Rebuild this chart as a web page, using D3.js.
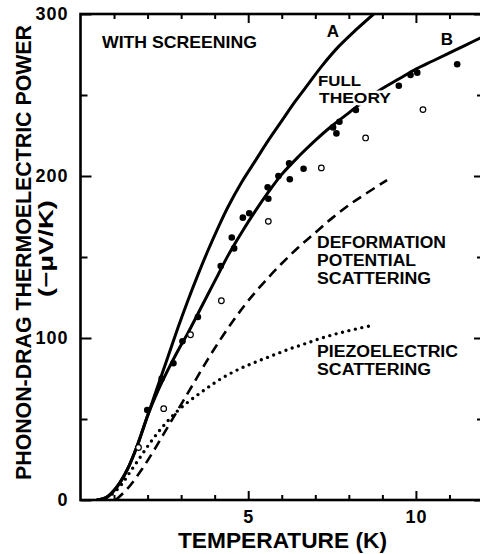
<!DOCTYPE html>
<html><head><meta charset="utf-8">
<script src="https://cdn.jsdelivr.net/npm/d3@7"></script>
<style>body{margin:0;background:#fff} svg{display:block}</style>
</head><body>
<svg id="chart" width="480" height="554"></svg>
<script>
// ---- data ----
const xTicksMajor = [5, 10];
const xTicksMinor = [1, 2, 3, 4, 6, 7, 8, 9, 11];
const yTicksMajor = [0, 100, 200, 300];
const yTicksMinor = [50, 150, 250];

// Curve A (solid, upper)
const curveA_T = [0.48, 0.8, 1.1, 1.4, 1.7, 2.0, 2.3, 2.6, 2.9, 3.2, 3.5, 3.8, 4.1, 4.4, 4.8, 5.2, 5.6, 6.0, 6.4, 6.8, 7.2, 7.7, 8.2, 8.74];
const curveA_S = [0, 2, 8.5, 19, 34, 52, 70, 88, 106, 123, 139, 154, 168, 181, 196, 209, 222, 234, 246, 257, 268, 280, 290, 300];
// Curve B (solid, full theory)
const curveB_T = [0.48, 0.8, 1.1, 1.4, 1.7, 2.0, 2.3, 2.6, 2.9, 3.2, 3.5, 3.8, 4.1, 4.4, 4.8, 5.2, 5.6, 6.0, 6.5, 7.0, 7.5, 8.0, 8.5, 9.0, 9.5, 10.0, 10.5, 11.0, 11.5, 12.0];
const curveB_S = [0, 2, 8.5, 19, 34, 52, 67, 80, 92, 103, 115, 127, 139, 151, 165, 178, 190, 201, 212, 222, 231, 239, 247, 254, 260, 266, 271, 276, 281, 286];
// Deformation potential scattering (dashed)
const deformT = [1.05, 1.4, 1.8, 2.2, 2.6, 3.0, 3.4, 3.8, 4.2, 4.6, 5.0, 5.5, 6.0, 6.5, 7.0, 7.5, 8.0, 8.5, 9.14];
const deformS = [0, 7, 18, 31, 45, 59, 73, 87, 100, 112, 123, 135, 146, 156, 165, 174, 182, 189, 197.5];
// Piezoelectric scattering (dotted)
const piezoT = [0.6, 0.9, 1.2, 1.5, 1.8, 2.1, 2.4, 2.7, 3.0, 3.4, 3.8, 4.2, 4.7, 5.2, 5.7, 6.2, 6.7, 7.2, 7.7, 8.2, 8.74];
const piezoS = [0, 3, 9, 18, 27, 36, 44, 51, 57, 63.5, 69.5, 75, 80.5, 85, 89, 93, 96.5, 100, 103, 105.5, 108];
// Measured points
const filledT = [1.99, 2.42, 2.77, 3.04, 3.5, 4.18, 4.51, 4.58, 4.84, 5.03, 5.58, 5.6, 5.9, 6.22, 6.24, 6.65, 7.53, 7.63, 7.72, 8.21, 9.49, 9.84, 10.04, 11.23];
const filledS = [55.5, 75, 84.4, 98, 113, 144.4, 162, 155.3, 174.3, 177, 193, 186, 200, 207.8, 198, 204.5, 230, 226.3, 233.5, 240.7, 255.7, 262.3, 263.8, 269];
const openT = [1.73, 2.48, 3.28, 4.2, 5.6, 7.18, 8.5, 10.21];
const openS = [32.4, 56.4, 102, 123, 172, 205, 223.5, 241];

// ---- drawing ----
const svg = d3.select("#chart");
const x = d3.scaleLinear().domain([0, 12]).range([80.5, 483]);
const y = d3.scaleLinear().domain([0, 300]).range([500, 14]);
const FONT = "'Liberation Sans', Arial, Helvetica, sans-serif";

svg.append("defs").append("clipPath").attr("id", "clip")
  .append("rect").attr("x", x(0)).attr("y", y(300))
  .attr("width", x(12) - x(0)).attr("height", y(0) - y(300));

function styleAxis(g) {
  g.select(".domain").remove();
  g.selectAll(".tick line").attr("stroke", "#000").attr("stroke-width", 2);
  g.selectAll(".tick text").attr("font-family", FONT).attr("font-weight", "bold")
    .attr("font-size", 18).attr("letter-spacing", 1).attr("fill", "#000");
}
svg.append("g").attr("transform", `translate(0,${y(0)})`)
  .call(d3.axisBottom(x).tickValues(xTicksMajor).tickSize(-9).tickPadding(10).tickFormat(d3.format("d")))
  .call(styleAxis);
svg.append("g").attr("transform", `translate(0,${y(0)})`)
  .call(d3.axisBottom(x).tickValues(xTicksMinor).tickSize(-5).tickFormat(""))
  .call(styleAxis);
svg.append("g").attr("transform", `translate(0,${y(300)})`)
  .call(d3.axisTop(x).tickValues(xTicksMajor).tickSize(-9).tickFormat(""))
  .call(styleAxis);
svg.append("g").attr("transform", `translate(0,${y(300)})`)
  .call(d3.axisTop(x).tickValues(xTicksMinor).tickSize(-5).tickFormat(""))
  .call(styleAxis);
svg.append("g").attr("transform", `translate(${x(0)},0)`)
  .call(d3.axisLeft(y).tickValues(yTicksMajor).tickSize(-11).tickPadding(12).tickFormat(d3.format("d")))
  .call(styleAxis);
svg.append("g").attr("transform", `translate(${x(0)},0)`)
  .call(d3.axisLeft(y).tickValues(yTicksMinor).tickSize(-7).tickFormat(""))
  .call(styleAxis);
svg.append("g").attr("transform", `translate(${x(12)},0)`)
  .call(d3.axisRight(y).tickValues(yTicksMajor).tickSize(-9).tickFormat(""))
  .call(styleAxis);
svg.append("g").attr("transform", `translate(${x(12)},0)`)
  .call(d3.axisRight(y).tickValues(yTicksMinor).tickSize(-6).tickFormat(""))
  .call(styleAxis);

// frame
svg.append("rect").attr("x", x(0)).attr("y", y(300))
  .attr("width", x(12) - x(0)).attr("height", y(0) - y(300))
  .attr("fill", "none").attr("stroke", "#000").attr("stroke-width", 2.6);

const line = d3.line().x(d => x(d[0])).y(d => y(d[1])).curve(d3.curveCatmullRom.alpha(0.5));
const plot = svg.append("g").attr("clip-path", "url(#clip)");

plot.append("path").datum(d3.zip(curveA_T, curveA_S)).attr("d", line)
  .attr("fill", "none").attr("stroke", "#000").attr("stroke-width", 3);
plot.append("path").datum(d3.zip(curveB_T, curveB_S)).attr("d", line)
  .attr("fill", "none").attr("stroke", "#000").attr("stroke-width", 3);
plot.append("path").datum(d3.zip(deformT, deformS)).attr("d", line)
  .attr("fill", "none").attr("stroke", "#000").attr("stroke-width", 2.6)
  .attr("stroke-dasharray", "10,6");
plot.append("path").datum(d3.zip(piezoT, piezoS)).attr("d", line)
  .attr("fill", "none").attr("stroke", "#000").attr("stroke-width", 3.4)
  .attr("stroke-linecap", "round").attr("stroke-dasharray", "0,6.6");

plot.selectAll("circle.filled").data(d3.zip(filledT, filledS)).join("circle")
  .attr("class", "filled").attr("cx", d => x(d[0])).attr("cy", d => y(d[1]))
  .attr("r", 3.3).attr("fill", "#000");
plot.selectAll("circle.open").data(d3.zip(openT, openS)).join("circle")
  .attr("class", "open").attr("cx", d => x(d[0])).attr("cy", d => y(d[1]))
  .attr("r", 2.8).attr("fill", "#fff").attr("stroke", "#000").attr("stroke-width", 1.2);

// annotations
function label(txt, px, py, len, opts = {}) {
  const t = svg.append("text").attr("x", px).attr("y", py).text(txt)
    .attr("font-family", FONT).attr("font-weight", "bold")
    .attr("font-size", opts.size || 16).attr("fill", "#000");
  if (len) t.attr("textLength", len).attr("lengthAdjust", "spacingAndGlyphs");
  if (opts.anchor) t.attr("text-anchor", opts.anchor);
  if (opts.halo) t.attr("stroke", "#fff").attr("stroke-width", 5).attr("paint-order", "stroke").attr("stroke-linejoin", "round");
  return t;
}
label("WITH SCREENING", 102, 48, 155, {size: 17});
label("A", 333, 37, null, {anchor: "middle", size: 17});
label("B", 447, 45, null, {anchor: "middle", size: 17});
label("FULL", 318, 86, 43, {size: 14.3});
label("THEORY", 319, 102.5, 72, {size: 14.3, halo: true});
label("DEFORMATION", 317, 248, 129);
label("POTENTIAL", 317, 266, 99);
label("SCATTERING", 317, 284, 114);
label("PIEZOELECTRIC", 317, 357, 141);
label("SCATTERING", 317, 375, 114);

// axis titles
svg.append("text").text("TEMPERATURE (K)")
  .attr("x", 282.5).attr("y", 548).attr("text-anchor", "middle")
  .attr("font-family", FONT).attr("font-weight", "bold").attr("font-size", 22)
  .attr("textLength", 209).attr("lengthAdjust", "spacingAndGlyphs");
svg.append("text").text("PHONON-DRAG THERMOELECTRIC POWER")
  .attr("transform", "translate(31,252.5) rotate(-90)").attr("text-anchor", "middle")
  .attr("font-family", FONT).attr("font-weight", "bold").attr("font-size", 22)
  .attr("textLength", 455).attr("lengthAdjust", "spacingAndGlyphs");
svg.append("text").text("(−\u03bcV/K)")
  .attr("transform", "translate(53,248.5) rotate(-90)").attr("text-anchor", "middle")
  .attr("font-family", FONT).attr("font-weight", "bold").attr("font-size", 20)
  .attr("textLength", 97).attr("lengthAdjust", "spacingAndGlyphs");
</script>
</body></html>
